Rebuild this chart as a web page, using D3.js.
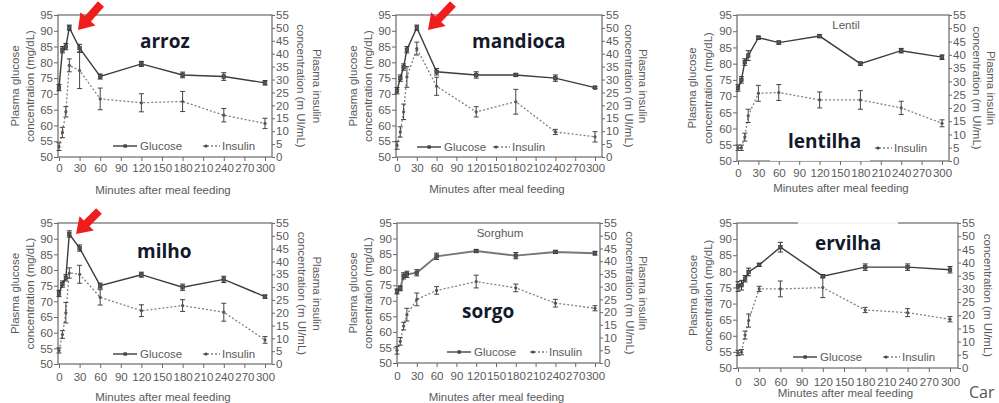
<!DOCTYPE html>
<html><head><meta charset="utf-8">
<script src="https://cdn.jsdelivr.net/npm/d3@7"></script>
<style>
html,body{margin:0;padding:0;background:#fff;}
svg{display:block;}
text{font-family:"Liberation Sans",Arial,sans-serif;fill:#5a5a5a;}
</style></head>
<body>
<svg id="chart" width="999" height="403"></svg>
<script>
// ---- data ----
const times = [0, 5, 10, 15, 30, 60, 120, 180, 240, 300];
const xTicks = [0, 30, 60, 90, 120, 150, 180, 210, 240, 270, 300];
const glucoseTicks = [50, 55, 60, 65, 70, 75, 80, 85, 90, 95];
const insulinTicks = [0, 5, 10, 15, 20, 25, 30, 35, 40, 45, 50, 55];

const arrozGlucose    = [72, 84, 85, 91, 84.5, 75.5, 79.5, 76, 75.5, 73.5];
const arrozGlucoseErr = [1, 1, 1, 0.8, 1.2, 0.8, 0.8, 0.9, 1.2, 0.7];
const arrozInsulin    = [4, 9.5, 17.5, 35.5, 33.5, 22.5, 21, 21.5, 16.2, 13];
const arrozInsulinErr = [1.5, 2, 2, 2.5, 7, 4.2, 3.5, 3.9, 2.6, 2];

const mandiocaGlucose    = [71, 75, 78.5, 84, 91, 77, 76, 76, 75, 72];
const mandiocaGlucoseErr = [1, 1, 1, 1, 0.8, 1, 1, 0.5, 1, 0.3];
const mandiocaInsulin    = [4.5, 9.7, 17.5, 31, 42, 27.4, 17.5, 21.4, 9.7, 7.8];
const mandiocaInsulinErr = [1.5, 2, 3, 4, 2.5, 3.5, 2, 4.8, 1, 2];

const lentilhaGlucose    = [72.5, 75, 80.5, 82.5, 88, 86.5, 88.5, 80, 84, 82];
const lentilhaGlucoseErr = [1, 1, 1, 1.5, 0.5, 0.5, 0.5, 0.5, 0.7, 0.7];
const lentilhaInsulin    = [5, 5, 9, 17, 25.5, 25.8, 23, 23, 20, 14.2];
const lentilhaInsulinErr = [1, 1, 1.5, 2.5, 3, 3, 3, 3.5, 2.5, 1.3];

const milhoGlucose    = [72.5, 75.5, 77.5, 91.5, 87, 75, 78.5, 74.5, 77, 71.5];
const milhoGlucoseErr = [1, 1, 1, 1, 1, 0.8, 0.8, 1, 1, 0.5];
const milhoInsulin    = [5.3, 11.5, 20, 35.5, 35, 26, 20.8, 22.8, 20.2, 9.4];
const milhoInsulinErr = [1, 1.5, 4, 2, 3.5, 3, 2.3, 2.3, 3.5, 1.3];

const sorgoGlucose    = [73, 74, 78, 78.5, 79, 84.3, 86, 84.5, 85.7, 85.3];
const sorgoGlucoseErr = [0.8, 0.8, 1, 1, 1, 1, 0.5, 1, 0.5, 0.6];
const sorgoInsulin    = [5, 8.5, 14.5, 19, 25, 28.5, 32, 29.5, 23.5, 21.5];
const sorgoInsulinErr = [1.5, 1.5, 1.5, 2.5, 2.5, 1.5, 2.5, 1.5, 1.5, 1];

const ervilhaGlucose    = [75.3, 75.7, 77.7, 79.8, 82, 87.5, 78.5, 81.3, 81.3, 80.5];
const ervilhaGlucoseErr = [1.5, 1.5, 1, 1.2, 0.5, 1.5, 0.5, 1, 1, 1];
const ervilhaInsulin    = [5.7, 6, 12.5, 18, 30, 30, 30.5, 22, 21, 18.5];
const ervilhaInsulinErr = [1, 1, 1.5, 2.5, 1, 3, 3.8, 1, 1.5, 1];

const panelLabels = ["arroz", "mandioca", "lentilha", "milho", "sorgo", "ervilha"];
const xTitle = "Minutes after meal feeding";
const yTitleL = ["Plasma glucose", "concentration (mg/dL)"];
const yTitleR = ["concentration (m UI/mL)", "Plasma insulin"];
const legendNames = ["Glucose", "Insulin"];

// ---- layout ----
const panels = [
  {label: panelLabels[0], g: arrozGlucose, ge: arrozGlucoseErr, ins: arrozInsulin, ie: arrozInsulinErr,
   L: 58, R: 272, x0: 59, x300: 265, top: 15, bottom: 157, xlabY: 172, xtitY: 194,
   yl1: 15, yl2: 30, yr: [301, 317],
   lab: [140, 48], labBox: null, gStroke: ["#3d3d3d", 1.4],
   leg: {gx: 113, gy: 146, ix: 203, iy: 146, showG: true},
   arrow: {tip: [78, 30], tail: [101, 4]}, sub: null},
  {label: panelLabels[1], g: mandiocaGlucose, ge: mandiocaGlucoseErr, ins: mandiocaInsulin, ie: mandiocaInsulinErr,
   L: 396, R: 602, x0: 397, x300: 595, top: 15, bottom: 157, xlabY: 172, xtitY: 193,
   yl1: 353, yl2: 368, yr: [629, 643],
   lab: [472, 48], labBox: null, gStroke: ["#3d3d3d", 1.4],
   leg: {gx: 417, gy: 147, ix: 493, iy: 147, showG: true},
   arrow: {tip: [428, 30], tail: [453, 4]}, sub: null},
  {label: panelLabels[2], g: lentilhaGlucose, ge: lentilhaGlucoseErr, ins: lentilhaInsulin, ie: lentilhaInsulinErr,
   L: 737, R: 949, x0: 738, x300: 942, top: 15, bottom: 161, xlabY: 177, xtitY: 192,
   yl1: 692, yl2: 708, yr: [977, 991],
   lab: [788, 148], labBox: [770, 128, 100, 33], gStroke: ["#3d3d3d", 1.4],
   leg: {gx: 0, gy: 0, ix: 875, iy: 148, showG: false},
   arrow: null, sub: {text: "Lentil", x: 846, y: 29}},
  {label: panelLabels[3], g: milhoGlucose, ge: milhoGlucoseErr, ins: milhoInsulin, ie: milhoInsulinErr,
   L: 58, R: 272, x0: 59, x300: 265, top: 223, bottom: 364, xlabY: 381, xtitY: 401,
   yl1: 15, yl2: 30, yr: [302, 317],
   lab: [137, 258], labBox: null, gStroke: ["#3d3d3d", 1.4],
   leg: {gx: 113, gy: 354, ix: 203, iy: 354, showG: true},
   arrow: {tip: [76, 234], tail: [99, 211]}, sub: null},
  {label: panelLabels[4], g: sorgoGlucose, ge: sorgoGlucoseErr, ins: sorgoInsulin, ie: sorgoInsulinErr,
   L: 397, R: 600, x0: 397, x300: 595, top: 223, bottom: 363, xlabY: 380, xtitY: 401,
   yl1: 353, yl2: 368, yr: [630, 643],
   lab: [462, 318], labBox: null, gStroke: ["#777", 1.9],
   leg: {gx: 447, gy: 352, ix: 530, iy: 352, showG: true},
   arrow: null, sub: {text: "Sorghum", x: 500, y: 237}},
  {label: panelLabels[5], g: ervilhaGlucose, ge: ervilhaGlucoseErr, ins: ervilhaInsulin, ie: ervilhaInsulinErr,
   L: 737, R: 958, x0: 738, x300: 950, top: 223, bottom: 368, xlabY: 386, xtitY: 397,
   yl1: 693, yl2: 708, yr: [988],
   lab: [815, 250], labBox: [798, 220, 100, 7], gStroke: ["#3d3d3d", 1.4],
   leg: {gx: 793, gy: 357, ix: 883, iy: 357, showG: true},
   arrow: null, sub: null}
];

const svg = d3.select("#chart");
const lineCol = "#6a6a6a";
const iCol = "#808080";

panels.forEach(p => {
  const g = svg.append("g");
  const x = d3.scaleLinear().domain([0, 300]).range([p.x0, p.x300]);
  const yG = d3.scaleLinear().domain([50, 95]).range([p.bottom, p.top]);
  const yI = d3.scaleLinear().domain([0, 55]).range([p.bottom, p.top]);

  // frame
  g.append("rect").attr("x", p.L).attr("y", p.top).attr("width", p.R - p.L).attr("height", p.bottom - p.top)
    .attr("fill", "none").attr("stroke", lineCol).attr("stroke-width", 1.2);

  // axes
  const axL = d3.axisLeft(yG).tickValues(glucoseTicks).tickSize(4).tickPadding(1);
  const axR = d3.axisRight(yI).tickValues(insulinTicks).tickSize(3).tickPadding(1);
  const axB = d3.axisBottom(x).tickValues(xTicks).tickSize(4).tickPadding(3);
  function styleAxis(sel) {
    sel.select(".domain").remove();
    sel.selectAll("line").attr("stroke", lineCol);
    sel.selectAll("text").attr("fill", "#5a5a5a").style("font-size", "11.5px")
      .style("font-family", "'Liberation Sans', Arial, sans-serif");
  }
  g.append("g").attr("transform", `translate(${p.L},0)`).call(axL).call(styleAxis);
  g.append("g").attr("transform", `translate(${p.R},0)`).call(axR).call(styleAxis);
  const bx = g.append("g").attr("transform", `translate(0,${p.bottom})`).call(axB).call(styleAxis);
  bx.selectAll("text").attr("dy", null).attr("y", p.xlabY - p.bottom).attr("dominant-baseline", "auto");

  // titles
  g.append("text").attr("x", (p.L + p.R) / 2 - 2).attr("y", p.xtitY).attr("text-anchor", "middle")
    .style("font-size", "11.5px").text(xTitle);
  const midY = (p.top + p.bottom) / 2;
  [[p.yl1, yTitleL[0]], [p.yl2, yTitleL[1]]].forEach(([cx, t]) => {
    g.append("text").attr("transform", `translate(${cx + 4},${midY}) rotate(-90)`)
      .attr("text-anchor", "middle").style("font-size", "11.5px").text(t);
  });
  p.yr.forEach((cx, k) => {
    g.append("text").attr("transform", `translate(${cx - 4},${midY}) rotate(90)`)
      .attr("text-anchor", "middle").style("font-size", "11.5px").text(yTitleR[k]);
  });

  // insulin series
  const idx = d3.range(times.length);
  g.append("path").datum(idx)
    .attr("d", d3.line().x(i => x(times[i])).y(i => yI(p.ins[i])))
    .attr("fill", "none").attr("stroke", iCol).attr("stroke-width", 1.3).attr("stroke-dasharray", "2,2");
  idx.forEach(i => {
    const cx = x(times[i]), y1 = yI(p.ins[i] - p.ie[i]), y2 = yI(p.ins[i] + p.ie[i]);
    g.append("path").attr("d", `M${cx},${y1}V${y2}M${cx - 2.5},${y1}H${cx + 2.5}M${cx - 2.5},${y2}H${cx + 2.5}`)
      .attr("stroke", "#444").attr("stroke-width", 1).attr("fill", "none");
    g.append("circle").attr("cx", cx).attr("cy", yI(p.ins[i])).attr("r", 1.6).attr("fill", "#555");
  });

  // glucose series
  g.append("path").datum(idx)
    .attr("d", d3.line().x(i => x(times[i])).y(i => yG(p.g[i])))
    .attr("fill", "none").attr("stroke", p.gStroke[0]).attr("stroke-width", p.gStroke[1]);
  idx.forEach(i => {
    const cx = x(times[i]), y1 = yG(p.g[i] - p.ge[i]), y2 = yG(p.g[i] + p.ge[i]);
    g.append("path").attr("d", `M${cx},${y1}V${y2}M${cx - 2.5},${y1}H${cx + 2.5}M${cx - 2.5},${y2}H${cx + 2.5}`)
      .attr("stroke", "#333").attr("stroke-width", 1).attr("fill", "none");
    g.append("rect").attr("x", cx - 1.8).attr("y", yG(p.g[i]) - 1.8).attr("width", 3.6).attr("height", 3.6)
      .attr("fill", "#555").attr("stroke", "#333").attr("stroke-width", 0.6);
  });

  // sub title
  if (p.sub) {
    g.append("text").attr("x", p.sub.x).attr("y", p.sub.y).attr("text-anchor", "middle")
      .style("font-size", "11.5px").text(p.sub.text);
  }

  // legend
  if (p.leg.showG) {
    g.append("line").attr("x1", p.leg.gx).attr("x2", p.leg.gx + 24).attr("y1", p.leg.gy).attr("y2", p.leg.gy)
      .attr("stroke", p.gStroke[0]).attr("stroke-width", p.gStroke[1]);
    g.append("rect").attr("x", p.leg.gx + 10.5).attr("y", p.leg.gy - 1.7).attr("width", 3.4).attr("height", 3.4).attr("fill", "#444");
    g.append("text").attr("x", p.leg.gx + 27).attr("y", p.leg.gy + 4).style("font-size", "11.5px").text(legendNames[0]);
  }
  g.append("line").attr("x1", p.leg.ix).attr("x2", p.leg.ix + 17).attr("y1", p.leg.iy).attr("y2", p.leg.iy)
    .attr("stroke", iCol).attr("stroke-width", 1.3).attr("stroke-dasharray", "2,2");
  g.append("circle").attr("cx", p.leg.ix + 3).attr("cy", p.leg.iy).attr("r", 1.6).attr("fill", "#444");
  g.append("text").attr("x", p.leg.ix + 19).attr("y", p.leg.iy + 4).style("font-size", "11.5px").text(legendNames[1]);

  // label with white box
  if (p.labBox) {
    g.append("rect").attr("x", p.labBox[0]).attr("y", p.labBox[1]).attr("width", p.labBox[2]).attr("height", p.labBox[3])
      .attr("fill", "#fff").attr("opacity", 0.9);
  }
  g.append("text").attr("x", p.lab[0]).attr("y", p.lab[1])
    .style("font-family", "'Open Sans', 'Noto Sans', sans-serif").style("font-weight", "700")
    .style("font-size", "19px").style("fill", "#14192b").text(p.label);

  // red arrow
  if (p.arrow) {
    const [tx, ty] = p.arrow.tip, [sx, sy] = p.arrow.tail;
    const len = Math.hypot(tx - sx, ty - sy);
    const ux = (tx - sx) / len, uy = (ty - sy) / len;
    const nx = -uy, ny = ux;
    const h = 15, w = 10, s = 4;
    const bx0 = tx - ux * h, by0 = ty - uy * h;
    const pts = [
      [sx + nx * s, sy + ny * s], [bx0 + nx * s, by0 + ny * s], [bx0 + nx * w, by0 + ny * w],
      [tx, ty], [bx0 - nx * w, by0 - ny * w], [bx0 - nx * s, by0 - ny * s], [sx - nx * s, sy - ny * s]
    ];
    g.append("polygon").attr("points", pts.map(q => q.join(",")).join(" ")).attr("fill", "#f01d1d");
  }
});

// caption text at bottom right
svg.append("text").attr("x", 969).attr("y", 398)
  .style("font-family", "'Open Sans', sans-serif").style("font-size", "16px").style("fill", "#555").text("Car");
</script>
</body></html>
